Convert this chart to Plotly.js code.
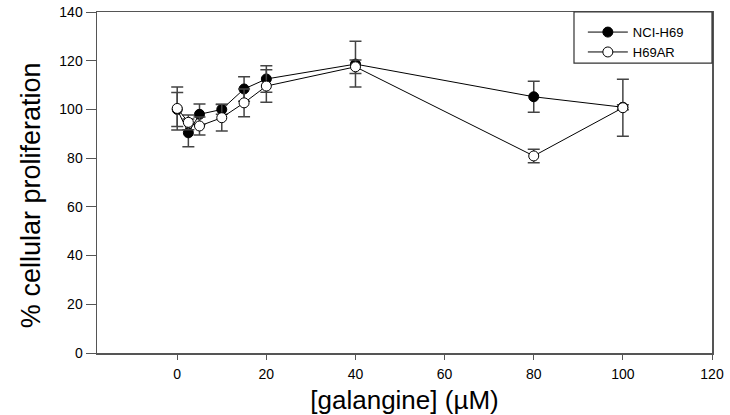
<!DOCTYPE html>
<html>
<head>
<meta charset="utf-8">
<script src="https://cdn.plot.ly/plotly-3.0.1.min.js"></script>
<style>html,body{margin:0;padding:0;background:#fff;}#chart{width:730px;height:415px;}</style>
</head>
<body>
<div id="chart"></div>
<script>
const concentrations = [0, 2.5, 5, 10, 15, 20, 40, 80, 100];
const nciH69 = [100.0, 90.4, 98.0, 100.0, 108.4, 112.5, 118.6, 105.2, 100.9];
const nciH69Err = [7.0, 5.7, 4.2, 2.0, 5.0, 5.4, 9.4, 6.4, 1.0];
const h69ar = [100.4, 94.7, 93.2, 96.6, 102.7, 109.6, 117.5, 80.9, 100.7];
const h69arErr = [8.8, 3.0, 3.7, 5.5, 5.7, 6.7, 2.8, 2.8, 11.7];
const seriesNames = ["NCI-H69", "H69AR"];
const xTicks = [0, 20, 40, 60, 80, 100, 120];
const yTicks = [0, 20, 40, 60, 80, 100, 120, 140];
const xTitle = '[galangine] (µM)';
const yTitle = '% cellular proliferation';

const FONT = 'Liberation Sans, Arial, sans-serif';
const errStyle = {type: 'data', visible: true, thickness: 1.5, width: 6, color: '#444'};

const traces = [
  {
    x: concentrations, y: nciH69, name: seriesNames[0], type: 'scatter', mode: 'lines+markers',
    line: {color: '#000', width: 1},
    marker: {symbol: 'circle', size: 10, color: '#000', line: {color: '#000', width: 1}},
    error_y: Object.assign({array: nciH69Err}, errStyle)
  },
  {
    x: concentrations, y: h69ar, name: seriesNames[1], type: 'scatter', mode: 'lines+markers',
    line: {color: '#000', width: 1},
    marker: {symbol: 'circle', size: 10, color: '#fff', line: {color: '#000', width: 1}},
    error_y: Object.assign({array: h69arErr}, errStyle)
  }
];

const axisCommon = {
  showgrid: false, zeroline: false, showline: true, linecolor: '#555', linewidth: 1.5,
  mirror: true, ticks: 'outside', tickcolor: '#555', tickwidth: 1,
  tickfont: {family: FONT, size: 14, color: '#000'}
};

const layout = {
  width: 730, height: 415,
  margin: {l: 97, r: 18, t: 12, b: 62},
  paper_bgcolor: '#fff', plot_bgcolor: '#fff',
  showlegend: true,
  legend: {
    x: 0.79, y: 0.985, xanchor: 'left', yanchor: 'top',
    borderwidth: 0, bgcolor: 'rgba(0,0,0,0)',
    font: {family: FONT, size: 13, color: '#000'},
    itemwidth: 40, tracegroupgap: 0
  },
  shapes: [
    {type: 'rect', xref: 'paper', yref: 'paper', x0: 0.7756, x1: 1, y0: 0.85, y1: 1,
     line: {color: '#333', width: 1.2}, fillcolor: 'rgba(0,0,0,0)', layer: 'above'}
  ],
  annotations: [
    {text: yTitle, xref: 'paper', yref: 'paper', x: -0.1073, y: 0.463, xanchor: 'center', yanchor: 'middle',
     textangle: -90, showarrow: false, font: {family: FONT, size: 27, color: '#000'}}
  ],
  xaxis: Object.assign({}, axisCommon, {
    range: [-18, 120], tickmode: 'array', tickvals: xTicks, ticklen: 5, ticklabelstandoff: 3,
    title: {text: xTitle, font: {family: FONT, size: 26, color: '#000'}, standoff: 11}
  }),
  yaxis: Object.assign({}, axisCommon, {
    range: [0, 140], tickmode: 'array', tickvals: yTicks, ticklen: 10
  })
};

Plotly.newPlot('chart', traces, layout, {displayModeBar: false, staticPlot: true});
</script>
</body>
</html>
